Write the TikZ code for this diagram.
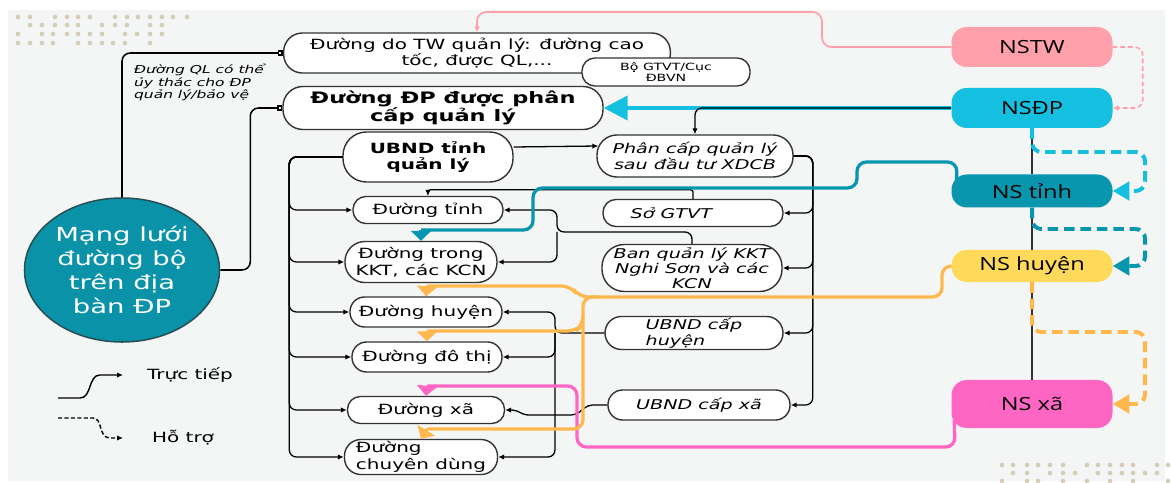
\documentclass[tikz,border=0pt]{standalone}
\usepackage{fontspec}
\setmainfont[FakeStretch=1.42]{DejaVu Sans}
\newfontfamily\nsfont[FakeStretch=1.3]{Open Sans}
\usepackage{tikz}
\usetikzlibrary{arrows.meta,calc,shapes.geometric}
\definecolor{nen}{HTML}{F4F6F6}
\definecolor{cham}{HTML}{D6CDB6}
\definecolor{tealdam}{HTML}{0A93A8}
\definecolor{hongnhat}{HTML}{FFA0AA}
\definecolor{xanhnsdp}{HTML}{14BFDF}
\definecolor{xanhtinh}{HTML}{0896AE}
\definecolor{vang}{HTML}{FFD95A}
\definecolor{cam}{HTML}{FFB84D}
\definecolor{hong}{HTML}{FF66C4}
\definecolor{vien}{HTML}{333333}

\begin{document}
\begin{tikzpicture}[x=0.03cm, y=-0.03cm,
  hop/.style={rectangle, rounded corners=11pt, draw=vien, line width=1.2pt, fill=white, inner sep=1pt, align=center, font=\fontsize{12}{14}\selectfont},
  hopnghieng/.style={hop, font=\fontsize{11.5}{13.5}\selectfont\itshape},
  ns/.style={rectangle, rounded corners=13pt, minimum width=4.83cm, font=\nsfont\fontsize{15.5}{17}\selectfont},
  noi/.style={line width=1.1pt, rounded corners=6pt, -{Latex[length=5pt,width=4.5pt]}},
  day/.style={line width=2.8pt, rounded corners=8pt},
  daynet/.style={line width=3.4pt, rounded corners=8pt, dash pattern=on 9pt off 5pt},
  mui/.style={-{Triangle[length=0.3cm,width=0.6cm]}},
  muiphai/.style={-{Triangle[length=0.5cm,width=0.55cm]}},
]
\useasboundingbox (0,0) rectangle (1171,483);
\fill[nen] (8,10) rectangle (1165,481);
% cham trang tri
\foreach \y/\xs in {17/{18,30,55,67,78,90,115,127,138,150,162,173,187},
                    25/{30,42,55,67,78,102,115,127,150,162},
                    34/{18,42,53,67,78,90,102,125,137,150,162},
                    43/{18,30,42,53,78,90,102,113,125,150}}
  \foreach \x in \xs \fill[cham] (\x,\y) circle (2pt);
\foreach \y/\xs in {465/{1002,1013,1027,1038,1050,1063,1087,1098,1110,1122,1133,1157,1168},
                    473/{1013,1027,1050,1063,1075,1098,1110,1122,1133,1145,1157},
                    481/{1002,1027,1038,1063,1087,1110,1133,1168}}
  \foreach \x in \xs \fill[cham] (\x,\y) circle (2pt);

% nut chinh
\node[ellipse, fill=tealdam, draw=vien!70!tealdam, line width=1.3pt, minimum width=5.85cm, minimum height=4.32cm, inner sep=0pt, text=white, align=center, font=\fontsize{16.5}{20.5}\selectfont] (mang) at (122,270) {Mạng lưới\\đường bộ\\trên địa\\bàn ĐP};
\node[anchor=north west, align=left, font=\fontsize{9.3}{10.8}\selectfont\itshape] (ghichu) at (130,60) {Đường QL có thể\\ủy thác cho ĐP\\quản lý/bảo vệ};

% nhom quan ly
\node[hop, rounded corners=16pt, minimum width=11.6cm, minimum height=1.2cm] (tw) at (477,53) {Đường do TW quản lý: đường cao\\tốc, được QL,...};
\node[hop, minimum width=5.04cm, minimum height=0.84cm, font=\fontsize{8.5}{9.5}\selectfont] (bo) at (666,72) {Bộ GTVT/Cục\\ĐBVN};
\node[hop, rounded corners=17pt, minimum width=9.6cm, minimum height=1.29cm, font=\fontsize{13.5}{15.5}\selectfont\bfseries] (dp) at (443,108) {Đường ĐP được phân\\cấp quản lý};
\node[hop, rounded corners=20pt, minimum width=5.1cm, minimum height=1.5cm, font=\fontsize{12}{14}\selectfont\bfseries] (ubt) at (428,157) {UBND tỉnh\\quản lý};
\node[hopnghieng, rounded corners=17pt, minimum width=5.88cm, minimum height=1.26cm] (pc) at (695,156) {Phân cấp quản lý\\sau đầu tư XDCB};
\node[hopnghieng, minimum width=5.4cm, minimum height=0.81cm] (so) at (693,213) {Sở GTVT\hspace{1.3cm}};
\node[hopnghieng, rounded corners=19pt, minimum width=5.4cm, minimum height=1.41cm, font=\fontsize{11.5}{12.5}\selectfont\itshape] (bql) at (692,268) {Ban quản lý KKT\\Nghi Sơn và các\\KCN};
\node[hopnghieng, rounded corners=14pt, minimum width=5.34cm, minimum height=0.99cm, align=left] (uh) at (694,333) {UBND cấp\hspace{0.9cm}\\huyện};
\node[hopnghieng, rounded corners=12.5pt, minimum width=5.46cm, minimum height=0.9cm] (ux) at (699,405) {UBND cấp xã};

% cac loai duong
\node[hop, minimum width=4.5cm, minimum height=0.81cm] (dt) at (428,210) {Đường tỉnh};
\node[hop, rounded corners=17pt, minimum width=4.56cm, minimum height=1.23cm] (dkkt) at (421,262) {Đường trong\\KKT, các KCN};
\node[hop, rounded corners=12.5pt, minimum width=4.56cm, minimum height=0.9cm] (dh) at (426,312) {Đường huyện};
\node[hop, rounded corners=12.5pt, minimum width=4.5cm, minimum height=0.9cm] (ddt) at (427,357) {Đường đô thị};
\node[hop, minimum width=4.71cm, minimum height=0.81cm] (dx) at (426,410) {Đường xã};
\node[hop, rounded corners=14pt, minimum width=4.59cm, minimum height=1.05cm, align=left] (dcd) at (421,457) {Đường\\chuyên dùng};

% ngan sach
\node[ns, fill=hongnhat, minimum height=1.2cm] (nstw) at (1032,47) {NSTW};
\node[ns, fill=xanhnsdp, minimum height=1.2cm] (nsdp) at (1032,108) {NSĐP};
\node[ns, fill=xanhtinh, minimum height=0.99cm] (nstinh) at (1032,191) {NS tỉnh};
\node[ns, fill=vang, minimum height=0.96cm] (nshuyen) at (1032,266) {NS huyện};
\node[ns, fill=hong, minimum height=1.44cm] (nsxa) at (1032,404) {NS xã};
\draw[line width=1pt, vien] (nsdp.south) -- (nstinh.north) (nstinh.south) -- (nshuyen.north) (nshuyen.south) -- (nsxa.north);

% duong noi tu mang luoi
\draw[line width=1.3pt, rounded corners=7pt, -{Square[open,length=4.5pt,width=4.5pt]}] (mang.north) |- (tw.west);
\draw[line width=1.3pt, rounded corners=7pt, -{Square[open,length=4.5pt,width=4.5pt]}] (mang.east) -- ++(30,0) |- (dp.west);

% quan ly truc tiep
\foreach \n in {dt,dkkt,dh,ddt,dx,dcd}
  \draw[noi] (ubt.west) -- ++(-53,0) |- (\n.west);
\draw[noi] ($(ubt.east)+(0,-10)$) -- ($(pc.west)+(2,-10)$);
\foreach \n in {so,bql,uh,ux}
  \draw[noi] (pc.east) -- ++(19,0) |- (\n.east);
\draw[noi, rounded corners=2pt] (so.north) -- ++(0,-9) -| (dt.north);
\coordinate (bqlnoi) at (557,232);
\draw[noi] (bql.north) |- (bqlnoi) |- (dt.east);
\draw[noi] (bqlnoi) |- (dkkt.east);
\coordinate (uhnoi) at (555,333);
\draw[noi] (uh.west) -- (uhnoi) |- (dh.east);
\draw[noi] (uhnoi) |- (ddt.east);
\draw[noi] (uhnoi) |- (dcd.east);
\draw[noi, rounded corners=4pt] (ux.west) -- (588,405) -- (576,415) -- (524,415) -- (516,410) -- (dx.east);

% ngan sach ho tro
\draw[hongnhat, line width=1.4pt, rounded corners=8pt, -{Latex[length=5pt,width=5pt]}] (nstw.west) -- (822,47) -- (822,12) -- (477,12) -- (tw.north);
\draw[hongnhat, line width=1.4pt, dash pattern=on 4pt off 2.5pt, rounded corners=7pt, -{Latex[length=5pt,width=5pt]}] (nstw.east) -- ++(30,0) |- (nsdp.east);
\draw[xanhnsdp, line width=3.6pt, -{Triangle[length=0.72cm,width=0.72cm]}] (nsdp.west) -- (dp.east);
\draw[noi] (nsdp.west) -| (pc.north);
\draw[daynet, xanhnsdp, muiphai] (nsdp.south) |- (1145,152) |- (nstinh.east);
\draw[daynet, xanhtinh, muiphai] (nstinh.south) |- (1145,229) |- (nshuyen.east);
\draw[daynet, cam, muiphai] (nshuyen.south) |- (1145,332) |- (nsxa.east);

% tinh
\coordinate (tinhxuong) at (421,230);
\draw[day, xanhtinh] ($(nstinh.west)+(5,0)$) -- (957,162) -- (857,162) -- (857,188) -- (533,188) -- (533,230) -- (tinhxuong);
\draw[xanhtinh, line width=2.8pt, mui] (tinhxuong) -- (dkkt.north);
% xa
\coordinate (hongxa) at (427,386);
\draw[day, hong] ($(nsxa.south west)+(3,-8)$) -- (955,447) -- (577,447) -- (577,386) -- (hongxa);
\draw[hong, line width=2.8pt, mui] (hongxa) -- (dx.north);
% huyen
\coordinate (camh) at (427,286);
\coordinate (camdt) at (427,331);
\coordinate (camcd) at (427,429);
\draw[day, cam] (nshuyen.west) -- (942,266) -- (942,297) -- (583,297) -- (583,429) -- (camcd);
\draw[day, cam] (598,297) -- (579,297) -- (571,286) -- (camh);
\draw[day, cam] (583,318) -- (583,325) -- (576,331) -- (camdt);
\draw[cam, line width=2.8pt, mui] (camh) -- (dh.north);
\draw[cam, line width=2.8pt, mui] (camdt) -- (ddt.north);
\draw[cam, line width=2.8pt, mui] (camcd) -- (dcd.north);

% chu thich
\node[anchor=west, font=\fontsize{12}{14}\selectfont] (tructiep) at (143,375) {Trực tiếp};
\node[anchor=west, font=\fontsize{12}{14}\selectfont] (hotro) at (148,438) {Hỗ trợ};
\draw[line width=1.2pt, -{Latex[length=5pt,width=4.5pt]}] (58,398) -- (80,398) .. controls (92,398) and (88,375) .. (100,375) -- (123,375);
\draw[line width=1.2pt, dash pattern=on 3.5pt off 2pt, -{Latex[length=5pt,width=4.5pt]}] (58,418) -- (93,418) .. controls (103,418) and (98,438) .. (110,438) -- (123,438);
\end{tikzpicture}
\end{document}
